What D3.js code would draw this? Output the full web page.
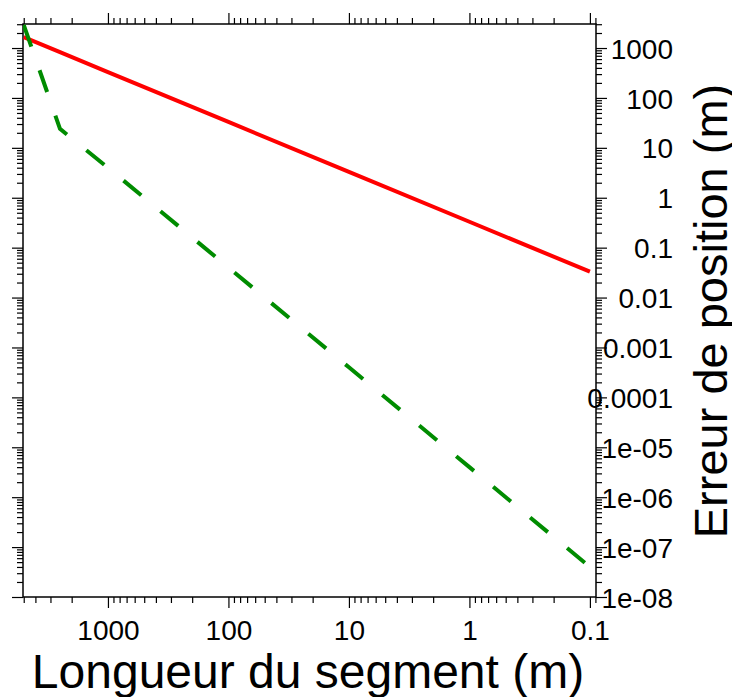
<!DOCTYPE html>
<html>
<head>
<meta charset="utf-8">
<script src="https://cdn.jsdelivr.net/npm/d3@7"></script>
<style>
  body { margin: 0; background: #fff; }
  svg { display: block; }
  text { font-family: "Liberation Sans", Arial, Helvetica, sans-serif; fill: #000; }
</style>
</head>
<body>
<svg width="732" height="697"></svg>
<script>
// segment length (m) and position error (m)
const segLength = [5000, 2500, 1000, 100, 10, 1, 0.1];
const errRed    = [1650, 825, 330, 33, 3.3, 0.33, 0.033];
const errGreen  = [2900, 24, 4.0, 0.04, 4e-4, 4e-6, 4e-8];

const xMajor = [1000, 100, 10, 1, 0.1];
const xLabels = ["1000", "100", "10", "1", "0.1"];
const yMajor = [1000, 100, 10, 1, 0.1, 0.01, 0.001, 1e-4, 1e-5, 1e-6, 1e-7, 1e-8];
const yLabels = ["1000", "100", "10", "1", "0.1", "0.01", "0.001", "0.0001",
                 "1e-05", "1e-06", "1e-07", "1e-08"];

var svg = d3.select("svg");

var pLeft = 23, pRight = 596, pTop = 24, pBottom = 597;

var x = d3.scaleLog().domain([5070, 0.089]).range([pLeft, pRight]);
var y = d3.scaleLog().domain([1e-8, 3030]).range([pBottom, pTop]);

function minors(domain) {
  var lo = Math.min(domain[0], domain[1]), hi = Math.max(domain[0], domain[1]);
  var out = [];
  for (var e = Math.floor(Math.log10(lo)); e <= Math.ceil(Math.log10(hi)); e++) {
    for (var m = 2; m <= 9; m++) {
      var v = +(m * Math.pow(10, e)).toPrecision(3);
      if (v >= lo * 0.999 && v <= hi * 1.001) out.push(v);
    }
  }
  return out;
}
var xMinor = minors(x.domain());
var yMinor = minors(y.domain());

function styleAxis(sel) {
  sel.select(".domain").remove();
  sel.selectAll(".tick line").attr("stroke", "#000").attr("stroke-width", 1.2);
}

// minor ticks on all four sides
svg.append("g").attr("transform", "translate(0," + pBottom + ")")
  .call(d3.axisBottom(x).tickValues(xMinor).tickSize(6).tickFormat(""))
  .call(styleAxis);
svg.append("g").attr("transform", "translate(0," + pTop + ")")
  .call(d3.axisTop(x).tickValues(xMinor).tickSize(6).tickFormat(""))
  .call(styleAxis);
svg.append("g").attr("transform", "translate(" + pLeft + ",0)")
  .call(d3.axisLeft(y).tickValues(yMinor).tickSize(6).tickFormat(""))
  .call(styleAxis);
svg.append("g").attr("transform", "translate(" + pRight + ",0)")
  .call(d3.axisRight(y).tickValues(yMinor).tickSize(6).tickFormat(""))
  .call(styleAxis);

// major ticks
var xb = svg.append("g").attr("transform", "translate(0," + pBottom + ")")
  .call(d3.axisBottom(x).tickValues(xMajor).tickSize(11).tickPadding(12)
    .tickFormat((d, i) => xLabels[i]))
  .call(styleAxis);
xb.selectAll("text").attr("font-size", 28).attr("font-family", null).attr("dy", "0.71em");

svg.append("g").attr("transform", "translate(0," + pTop + ")")
  .call(d3.axisTop(x).tickValues(xMajor).tickSize(11).tickFormat(""))
  .call(styleAxis);
svg.append("g").attr("transform", "translate(" + pLeft + ",0)")
  .call(d3.axisLeft(y).tickValues(yMajor).tickSize(11).tickFormat(""))
  .call(styleAxis);

var yr = svg.append("g").attr("transform", "translate(" + pRight + ",0)")
  .call(d3.axisRight(y).tickValues(yMajor).tickSize(11).tickPadding(0)
    .tickFormat((d, i) => yLabels[i]))
  .call(styleAxis);
yr.selectAll("text").attr("font-size", 28).attr("font-family", null)
  .attr("text-anchor", "end").attr("x", 77).attr("dy", "0.36em");

// frame
svg.append("rect")
  .attr("x", pLeft).attr("y", pTop)
  .attr("width", pRight - pLeft).attr("height", pBottom - pTop)
  .attr("fill", "none").attr("stroke", "#000").attr("stroke-width", 1.5);

// curves
svg.append("clipPath").attr("id", "clip")
  .append("rect").attr("x", pLeft).attr("y", pTop)
  .attr("width", pRight - pLeft).attr("height", pBottom - pTop);

var plot = svg.append("g").attr("clip-path", "url(#clip)");

var line = d3.line().x(d => x(d[0])).y(d => y(d[1]));

plot.append("path")
  .datum(d3.zip(segLength, errRed))
  .attr("d", line)
  .attr("fill", "none")
  .attr("stroke", "#ff0000")
  .attr("stroke-width", 4);

plot.append("path")
  .datum(d3.zip(segLength, errGreen))
  .attr("d", line)
  .attr("fill", "none")
  .attr("stroke", "#008c00")
  .attr("stroke-width", 4)
  .attr("stroke-dasharray", "23,25");

// axis titles
svg.append("text")
  .attr("x", 308).attr("y", 688)
  .attr("text-anchor", "middle")
  .attr("font-size", 48)
  .text("Longueur du segment (m)");

svg.append("text")
  .attr("transform", "translate(727,311) rotate(-90)")
  .attr("text-anchor", "middle")
  .attr("font-size", 47)
  .text("Erreur de position (m)");
</script>
</body>
</html>
